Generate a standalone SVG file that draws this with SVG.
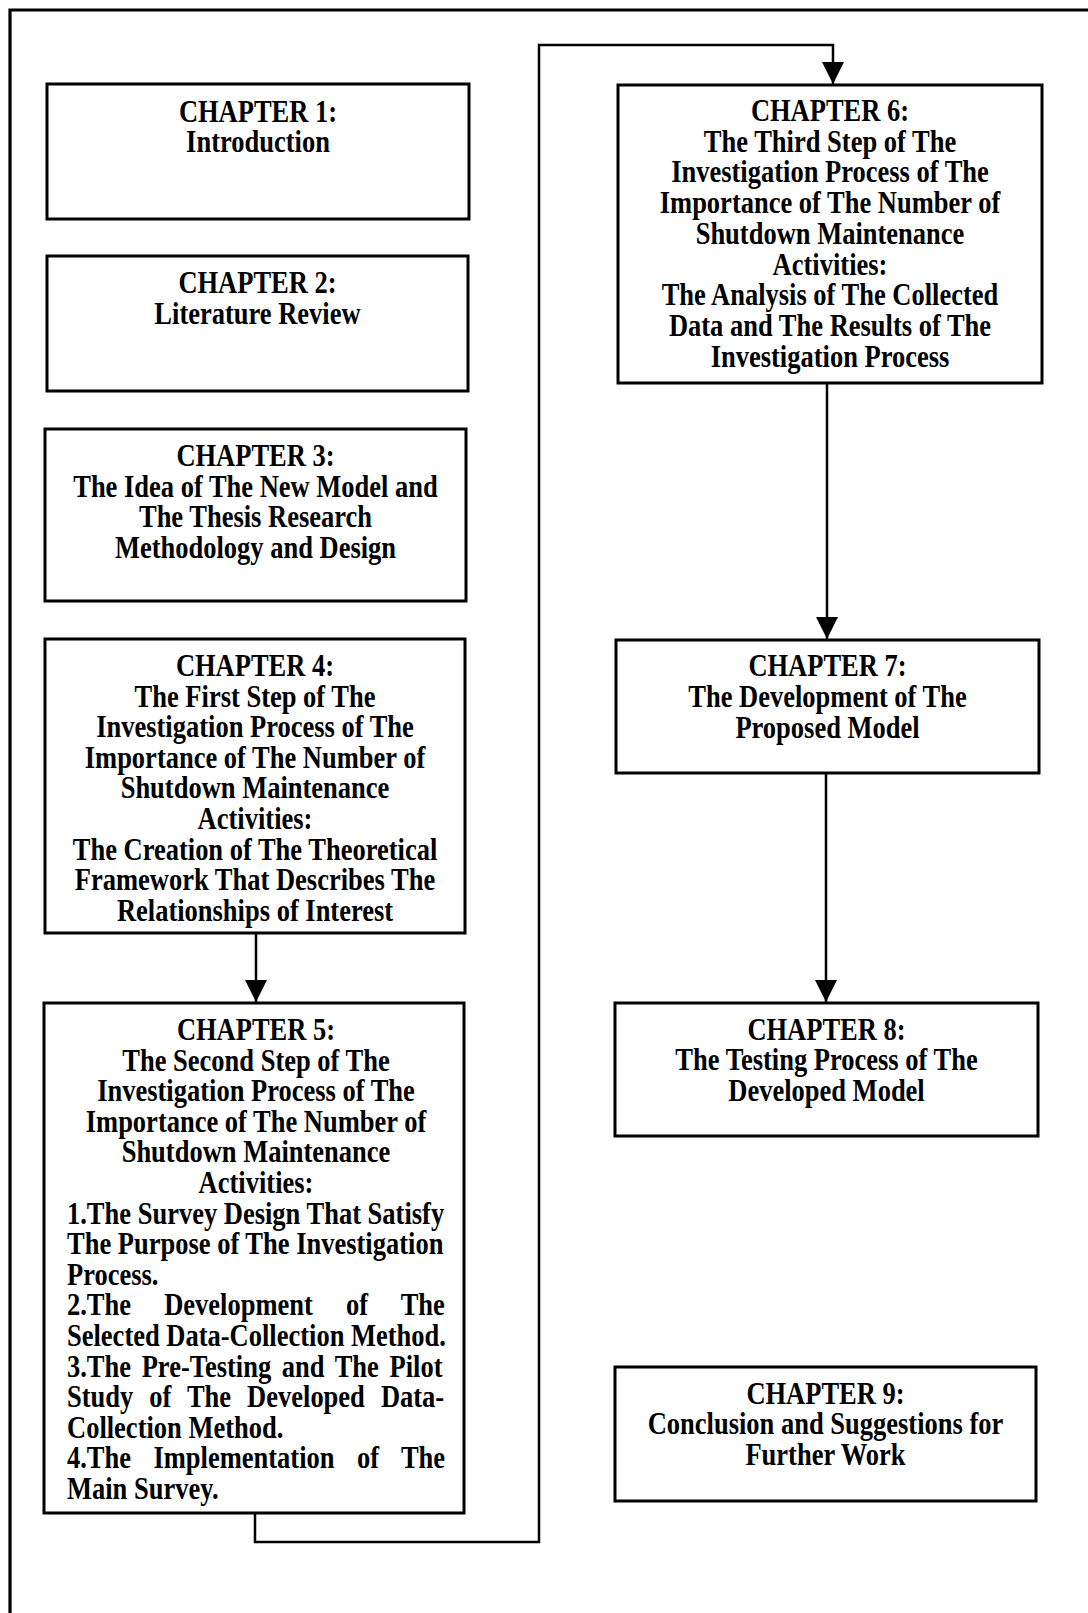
<svg xmlns="http://www.w3.org/2000/svg" width="1088" height="1613" viewBox="0 0 1088 1613">
  <style>
    .box { fill: #ffffff; stroke: #000000; stroke-width: 3; }
    .frame { fill: none; stroke: #000000; stroke-width: 3.2; }
    .link { fill: none; stroke: #000000; stroke-width: 2.5; }
    text { font-family: "Liberation Serif", "Times New Roman", serif; font-weight: bold; font-size: 26.5px; fill: #000000; }
    .c { text-anchor: middle; }
    .l { text-anchor: start; }
  </style>
  <defs>
    <marker id="arrow" markerUnits="userSpaceOnUse" markerWidth="24" markerHeight="24" refX="22" refY="12" orient="auto">
      <path d="M0,1 L22,12 L0,23 Z" fill="#000000"/>
    </marker>
  </defs>

  <rect width="1088" height="1613" fill="#ffffff"/>

  <!-- page frame: top and left edges -->
  <path class="frame" d="M10,1613 L10,10 L1088,10"/>

  <!-- connectors -->
  <g id="connectors">
    <path class="link" d="M256,933 L256,1002" marker-end="url(#arrow)"/>
    <path class="link" d="M255,1513 L255,1542 L539,1542 L539,45 L833,45 L833,84" marker-end="url(#arrow)"/>
    <path class="link" d="M827,383 L827,639" marker-end="url(#arrow)"/>
    <path class="link" d="M826,773 L826,1002" marker-end="url(#arrow)"/>
  </g>

  <g id="chapter1">
    <rect class="box" x="47" y="84" width="422" height="135"/>
    <text class="c" transform="matrix(1 0 0 1.2 258 121.5)">CHAPTER 1:</text>
    <text class="c" transform="matrix(1 0 0 1.2 258 152)">Introduction</text>
  </g>

  <g id="chapter2">
    <rect class="box" x="47" y="256" width="421" height="135"/>
    <text class="c" transform="matrix(1 0 0 1.2 257.5 293)">CHAPTER 2:</text>
    <text class="c" transform="matrix(1 0 0 1.2 257.5 324)">Literature Review</text>
  </g>

  <g id="chapter3">
    <rect class="box" x="45" y="429" width="421" height="172"/>
    <text class="c" transform="matrix(1 0 0 1.2 255.5 466)">CHAPTER 3:</text>
    <text class="c" transform="matrix(1 0 0 1.2 255.5 496.5)">The Idea of The New Model and</text>
    <text class="c" transform="matrix(1 0 0 1.2 255.5 527)">The Thesis Research</text>
    <text class="c" transform="matrix(1 0 0 1.2 255.5 557.5)">Methodology and Design</text>
  </g>

  <g id="chapter4">
    <rect class="box" x="45" y="639" width="420" height="294"/>
    <text class="c" transform="matrix(1 0 0 1.2 255 676)">CHAPTER 4:</text>
    <text class="c" transform="matrix(1 0 0 1.2 255 706.6)">The First Step of The</text>
    <text class="c" transform="matrix(1 0 0 1.2 255 737.2)">Investigation Process of The</text>
    <text class="c" transform="matrix(1 0 0 1.2 255 767.8)">Importance of The Number of</text>
    <text class="c" transform="matrix(1 0 0 1.2 255 798.4)">Shutdown Maintenance</text>
    <text class="c" transform="matrix(1 0 0 1.2 255 829)">Activities:</text>
    <text class="c" transform="matrix(1 0 0 1.2 255 859.6)">The Creation of The Theoretical</text>
    <text class="c" transform="matrix(1 0 0 1.2 255 890.2)">Framework That Describes The</text>
    <text class="c" transform="matrix(1 0 0 1.2 255 920.8)">Relationships of Interest</text>
  </g>

  <g id="chapter5">
    <rect class="box" x="44" y="1003" width="420" height="510"/>
    <text class="c" transform="matrix(1 0 0 1.2 256 1040)">CHAPTER 5:</text>
    <text class="c" transform="matrix(1 0 0 1.2 256 1070.6)">The Second Step of The</text>
    <text class="c" transform="matrix(1 0 0 1.2 256 1101.2)">Investigation Process of The</text>
    <text class="c" transform="matrix(1 0 0 1.2 256 1131.8)">Importance of The Number of</text>
    <text class="c" transform="matrix(1 0 0 1.2 256 1162.4)">Shutdown Maintenance</text>
    <text class="c" transform="matrix(1 0 0 1.2 256 1193)">Activities:</text>
    <text class="l" transform="matrix(1 0 0 1.2 67 1223.6)" style="word-spacing:0px">1.The Survey Design That Satisfy</text>
    <text class="l" transform="matrix(1 0 0 1.2 67 1254.2)" style="word-spacing:0px">The Purpose of The Investigation</text>
    <text class="l" transform="matrix(1 0 0 1.2 67 1284.8)">Process.</text>
    <text class="l" transform="matrix(1 0 0 1.2 67 1315.4)" style="word-spacing:26.5px">2.The Development of The</text>
    <text class="l" transform="matrix(1 0 0 1.2 67 1346)" style="word-spacing:0px">Selected Data-Collection Method.</text>
    <text class="l" transform="matrix(1 0 0 1.2 67 1376.6)" style="word-spacing:4px">3.The Pre-Testing and The Pilot</text>
    <text class="l" transform="matrix(1 0 0 1.2 67 1407.2)" style="word-spacing:9.4px">Study of The Developed Data-</text>
    <text class="l" transform="matrix(1 0 0 1.2 67 1437.8)">Collection Method.</text>
    <text class="l" transform="matrix(1 0 0 1.2 67 1468.4)" style="word-spacing:15.8px">4.The Implementation of The</text>
    <text class="l" transform="matrix(1 0 0 1.2 67 1499)">Main Survey.</text>
  </g>

  <g id="chapter6">
    <rect class="box" x="618" y="85" width="424" height="298"/>
    <text class="c" transform="matrix(1 0 0 1.2 830 121)">CHAPTER 6:</text>
    <text class="c" transform="matrix(1 0 0 1.2 830 151.7)">The Third Step of The</text>
    <text class="c" transform="matrix(1 0 0 1.2 830 182.4)">Investigation Process of The</text>
    <text class="c" transform="matrix(1 0 0 1.2 830 213.1)">Importance of The Number of</text>
    <text class="c" transform="matrix(1 0 0 1.2 830 243.8)">Shutdown Maintenance</text>
    <text class="c" transform="matrix(1 0 0 1.2 830 274.5)">Activities:</text>
    <text class="c" transform="matrix(1 0 0 1.2 830 305.2)">The Analysis of The Collected</text>
    <text class="c" transform="matrix(1 0 0 1.2 830 335.9)">Data and The Results of The</text>
    <text class="c" transform="matrix(1 0 0 1.2 830 366.6)">Investigation Process</text>
  </g>

  <g id="chapter7">
    <rect class="box" x="616" y="640" width="423" height="133"/>
    <text class="c" transform="matrix(1 0 0 1.2 827.5 676)">CHAPTER 7:</text>
    <text class="c" transform="matrix(1 0 0 1.2 827.5 707)">The Development of The</text>
    <text class="c" transform="matrix(1 0 0 1.2 827.5 738)">Proposed Model</text>
  </g>

  <g id="chapter8">
    <rect class="box" x="615" y="1003" width="423" height="133"/>
    <text class="c" transform="matrix(1 0 0 1.2 826.5 1039.5)">CHAPTER 8:</text>
    <text class="c" transform="matrix(1 0 0 1.2 826.5 1070)">The Testing Process of The</text>
    <text class="c" transform="matrix(1 0 0 1.2 826.5 1101)">Developed Model</text>
  </g>

  <g id="chapter9">
    <rect class="box" x="615" y="1367" width="421" height="134"/>
    <text class="c" transform="matrix(1 0 0 1.2 825.5 1403.5)">CHAPTER 9:</text>
    <text class="c" transform="matrix(1 0 0 1.2 825.5 1434)">Conclusion and Suggestions for</text>
    <text class="c" transform="matrix(1 0 0 1.2 825.5 1465)">Further Work</text>
  </g>
</svg>
